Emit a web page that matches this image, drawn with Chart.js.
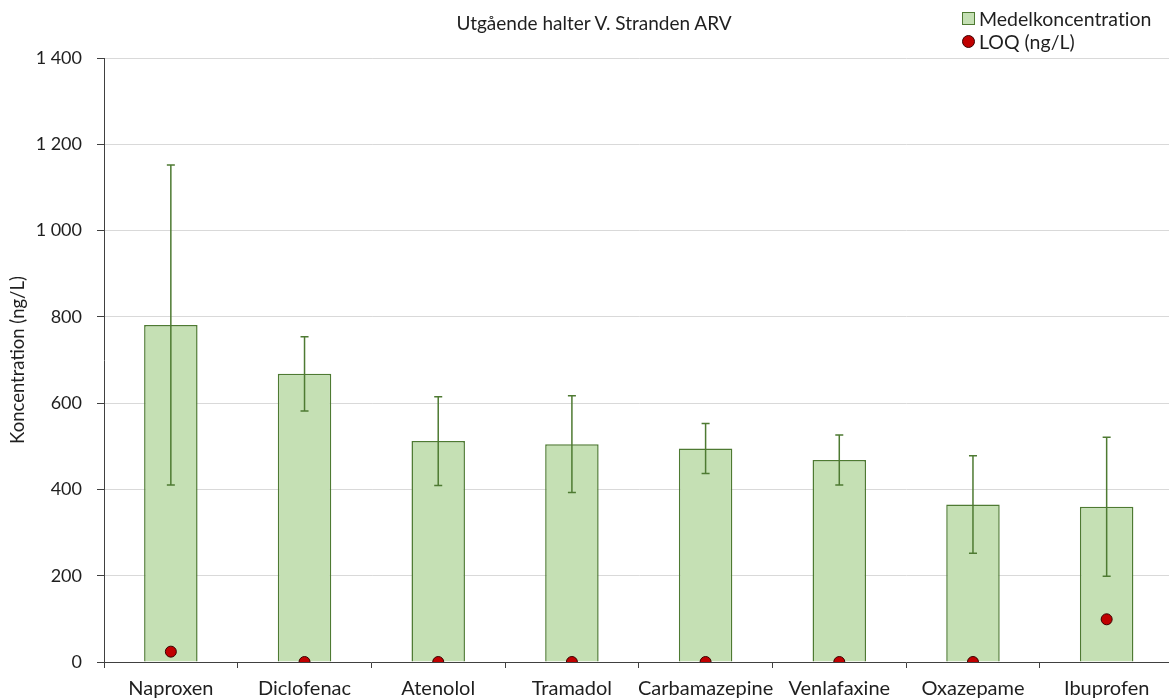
<!DOCTYPE html>
<html>
<head>
<meta charset="utf-8">
<script src="https://cdn.jsdelivr.net/npm/chart.js@4.4.1/dist/chart.umd.min.js"></script>
<style>
  html, body { margin: 0; padding: 0; background: #fff; overflow: hidden; width: 1169px; height: 699px; }
  #wrap { position: relative; width: 1180px; height: 699px; }
  #title { position: absolute; top: 11px; left: 0; width: 1188px; text-align: center;
           font: 19px Lato, sans-serif; color: #1f1f1f; font-variant-ligatures: none; }
  #legend { position: absolute; top: 7px; left: 962px; font: 19.5px Lato, sans-serif; color: #1f1f1f;
            line-height: 23px; font-variant-ligatures: none; }
  #legend div { display: flex; align-items: center; white-space: nowrap; }
  .sq { width: 11px; height: 11px; background: #c5e0b4; border: 1px solid #4e7a32; margin-right: 4px; }
  .dot { width: 11px; height: 11px; border-radius: 50%; background: #c00000; border: 1px solid #3a0000; margin-right: 4px; }
</style>
</head>
<body>
<div id="wrap">
  <canvas id="c" width="1180" height="699"></canvas>
  <div id="title">Utgående halter V. Stranden ARV</div>
  <div id="legend">
    <div><span class="sq"></span>Medelkoncentration</div>
    <div><span class="dot"></span>LOQ (ng/L)</div>
  </div>
</div>
<script>
// Substances, mean effluent concentrations, spread and limit of quantification (ng/L)
const substances = ['Naproxen', 'Diclofenac', 'Atenolol', 'Tramadol', 'Carbamazepine', 'Venlafaxine', 'Oxazepame', 'Ibuprofen'];
const meanConc = [781, 668, 512, 505, 495, 468, 365, 360];
const stdDev = [371, 86, 103, 112, 58, 58, 113, 161];
const loq = [24, 0, 0, 0, 0, 0, 0, 99];
const yTicks = [0, 200, 400, 600, 800, 1000, 1200, 1400];

const TEXT = '#1f1f1f';
const GREEN_FILL = '#c5e0b4';
const GREEN_LINE = '#4e7a32';

// Error bars (mean ± standard deviation) drawn on top of the bars
const errorBars = {
  id: 'errorBars',
  afterDatasetDraw(chart, args) {
    if (args.index !== 0) return;
    const meta = chart.getDatasetMeta(0);
    const y = chart.scales.y;
    const ctx = chart.ctx;
    ctx.save();
    ctx.strokeStyle = GREEN_LINE;
    ctx.lineWidth = 1.5;
    meta.data.forEach((bar, i) => {
      const x = bar.x;
      const top = y.getPixelForValue(meanConc[i] + stdDev[i]);
      const bot = y.getPixelForValue(meanConc[i] - stdDev[i]);
      ctx.beginPath();
      ctx.moveTo(x, top); ctx.lineTo(x, bot);
      ctx.moveTo(x - 4, top); ctx.lineTo(x + 4, top);
      ctx.moveTo(x - 4, bot); ctx.lineTo(x + 4, bot);
      ctx.stroke();
    });
    ctx.restore();
  }
};

const fmt = v => String(v).replace(/\B(?=(\d{3})+(?!\d))/g, '\u00a0');

new Chart(document.getElementById('c'), {
  data: {
    labels: substances,
    datasets: [
      {
        type: 'bar',
        label: 'Medelkoncentration',
        data: meanConc,
        backgroundColor: GREEN_FILL,
        borderColor: GREEN_LINE,
        borderWidth: 1.5,
        barPercentage: 0.8,
        categoryPercentage: 0.5,
        order: 2
      },
      {
        type: 'line',
        label: 'LOQ (ng/L)',
        data: loq,
        showLine: false,
        pointRadius: 5.5,
        pointBackgroundColor: '#c00000',
        pointBorderColor: '#3a0000',
        pointBorderWidth: 1,
        order: 1
      }
    ]
  },
  options: {
    responsive: false,
    animation: false,
    layout: { padding: { top: 58, left: 0, right: 0, bottom: 0 } },
    plugins: { legend: { display: false }, title: { display: false }, tooltip: { enabled: false } },
    scales: {
      x: {
        offset: true,
        grid: { display: true, offset: true, drawOnChartArea: false, drawTicks: true, tickLength: 6, tickColor: '#404040' },
        border: { display: true, color: '#404040', width: 1 },
        ticks: { color: TEXT, font: { family: 'Lato', size: 20 }, padding: 9, maxRotation: 0, autoSkip: false },
        afterFit(s) { s.height = 37; }
      },
      y: {
        min: 0,
        max: 1400,
        afterBuildTicks(s) { s.ticks = yTicks.map(v => ({ value: v })); },
        grid: { color: '#d9d9d9', lineWidth: 1, drawTicks: true, tickLength: 7, tickColor: '#404040' },
        border: { display: true, color: '#404040', width: 1 },
        ticks: { color: TEXT, font: { family: 'Lato', size: 18 }, padding: 15, callback: v => fmt(v) },
        title: { display: true, text: 'Koncentration (ng/L)', color: TEXT, font: { family: 'Lato', size: 18.5 }, padding: { top: 7, bottom: 0 } },
        afterFit(s) { s.width = 104; }
      }
    }
  },
  plugins: [errorBars]
});
</script>
</body>
</html>
